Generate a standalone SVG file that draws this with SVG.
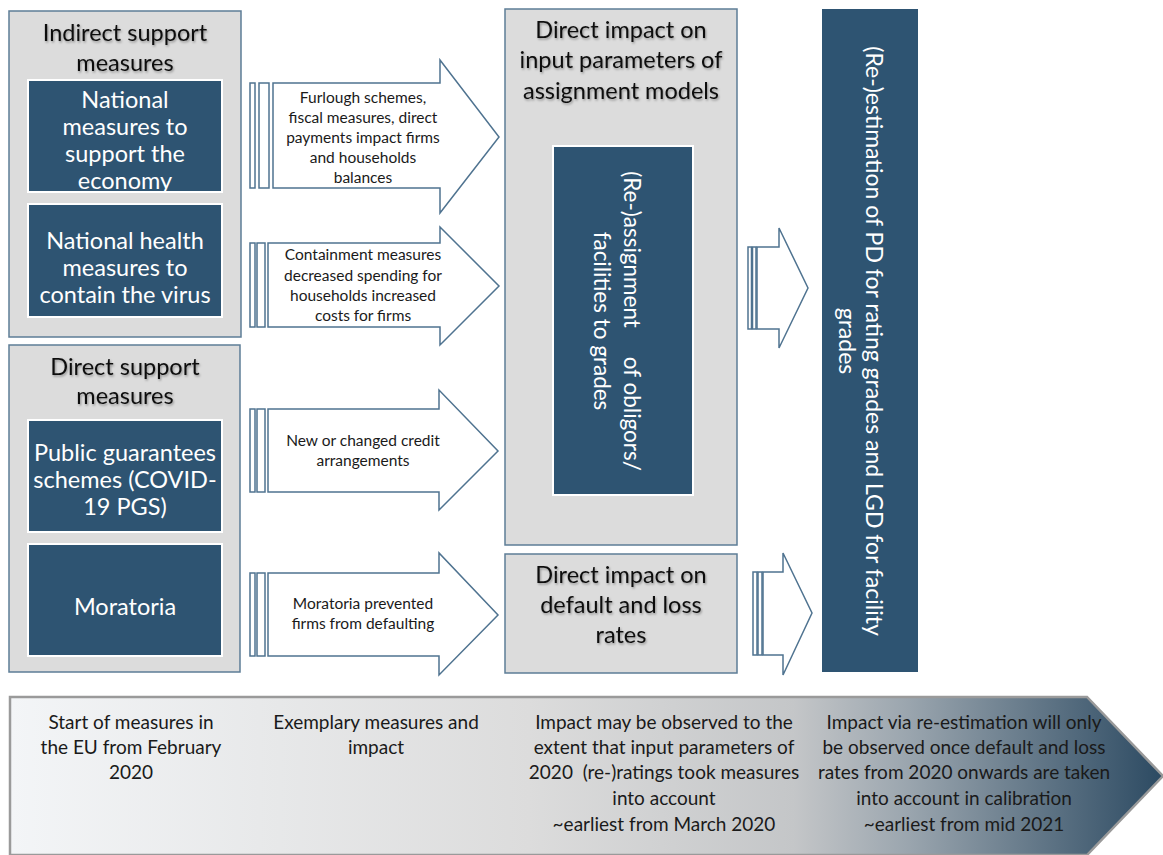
<svg xmlns="http://www.w3.org/2000/svg" width="1163" height="855" viewBox="0 0 1163 855">
<style>
.gbox{fill:#dcdcdc;stroke:#5d7d97;stroke-width:1.5}
.dbox{fill:#2e5472;stroke:#ffffff;stroke-width:2}
.arr{fill:#ffffff;stroke:#4f7390;stroke-width:1.5}
.t{font-family:Lato,"Liberation Sans",sans-serif;text-anchor:middle}
.title{font-size:23.5px;fill:#111;filter:url(#sh)}
.wt{font-size:23.5px;fill:#ffffff}
.at{font-size:15.5px;fill:#1a1a1a}
.bt{font-size:19px;fill:#1a1a1a}
.vt{font-size:23px;fill:#ffffff}
.vm{font-size:22.5px;fill:#ffffff}
</style>
<defs>
<filter id="sh" x="-10%" y="-30%" width="120%" height="160%">
<feDropShadow dx="1" dy="1.5" stdDeviation="1.2" flood-color="#000" flood-opacity="0.35"/>
</filter>
<linearGradient id="bg" x1="0" y1="0" x2="1" y2="0">
<stop offset="0" stop-color="#f3f5f7"/>
<stop offset="0.45" stop-color="#dcdcdc"/>
<stop offset="0.68" stop-color="#c4c6c8"/>
<stop offset="0.78" stop-color="#9aa5ae"/>
<stop offset="1" stop-color="#2c4a62"/>
</linearGradient>
</defs>

<g id="banner">
<path d="M10,697 H1087 L1163,776 L1087,855 H10 Z" fill="url(#bg)" stroke="#9a9a9a" stroke-width="2.5"/>
<text class="t bt" x="131" y="729">Start of measures in</text>
<text class="t bt" x="131" y="754">the EU from February</text>
<text class="t bt" x="131" y="779">2020</text>
<text class="t bt" x="376" y="729">Exemplary measures and</text>
<text class="t bt" x="376" y="754">impact</text>
<text class="t bt" x="664" y="729">Impact may be observed to the</text>
<text class="t bt" x="664" y="754">extent that input parameters of</text>
<text class="t bt" x="664" y="779" xml:space="preserve">2020  (re-)ratings took measures</text>
<text class="t bt" x="664" y="805">into account</text>
<text class="t bt" x="664" y="831">~earliest from March 2020</text>
<text class="t bt" x="964" y="729">Impact via re-estimation will only</text>
<text class="t bt" x="964" y="754">be observed once default and loss</text>
<text class="t bt" x="964" y="779">rates from 2020 onwards are taken</text>
<text class="t bt" x="964" y="805">into account in calibration</text>
<text class="t bt" x="964" y="831">~earliest from mid 2021</text>
</g>

<g id="indirect">
<rect class="gbox" x="9" y="11" width="232" height="326"/>
<text class="t title" x="125" y="41">Indirect support</text>
<text class="t title" x="125" y="71">measures</text>
</g>
<g id="economy">
<rect class="dbox" x="28" y="80" width="194" height="112"/>
<text class="t wt" x="125" y="108">National</text>
<text class="t wt" x="125" y="135">measures to</text>
<text class="t wt" x="125" y="162">support the</text>
<text class="t wt" x="125" y="189">economy</text>
</g>
<g id="health">
<rect class="dbox" x="28" y="204" width="194" height="113"/>
<text class="t wt" x="125" y="249">National health</text>
<text class="t wt" x="125" y="276">measures to</text>
<text class="t wt" x="125" y="303">contain the virus</text>
</g>

<g id="direct">
<rect class="gbox" x="9" y="345" width="231" height="327"/>
<text class="t title" x="125" y="375">Direct support</text>
<text class="t title" x="125" y="404">measures</text>
</g>
<g id="pgs">
<rect class="dbox" x="28" y="420" width="194" height="112"/>
<text class="t wt" x="125" y="461">Public guarantees</text>
<text class="t wt" x="125" y="488">schemes (COVID-</text>
<text class="t wt" x="125" y="515">19 PGS)</text>
</g>
<g id="moratoria">
<rect class="dbox" x="28" y="544" width="194" height="112"/>
<text class="t wt" x="125" y="615">Moratoria</text>
</g>

<g id="inputparams">
<rect class="gbox" x="505" y="9" width="232" height="536"/>
<text class="t title" x="621" y="38">Direct impact on</text>
<text class="t title" x="621" y="68">input parameters of</text>
<text class="t title" x="621" y="99">assignment models</text>
</g>
<g id="reassignment">
<rect class="dbox" x="553" y="146" width="140" height="349"/>
<text class="t vm" transform="translate(624,321) rotate(90)" xml:space="preserve">(Re-)assignment     of obligors/</text>
<text class="t vm" transform="translate(594,321) rotate(90)">facilities to grades</text>
</g>

<g id="defaultloss">
<rect class="gbox" x="505" y="554" width="232" height="119"/>
<text class="t title" x="621" y="583">Direct impact on</text>
<text class="t title" x="621" y="613">default and loss</text>
<text class="t title" x="621" y="643">rates</text>
</g>

<g id="reestimation">
<rect x="822" y="9" width="96" height="663" fill="#2e5472"/>
<text class="t vt" transform="translate(866,341) rotate(90)">(Re-)estimation of PD for rating grades and LGD for facility</text>
<text class="t vt" transform="translate(839,341) rotate(90)">grades</text>
</g>

<g id="connectors">
<g id="arrow1">
<rect class="arr" x="250" y="83" width="5" height="105"/>
<rect class="arr" x="259" y="83" width="10" height="105"/>
<path class="arr" d="M273,83 H440 V60 L499,137 L440,213 V188 H273 Z"/>
<text class="t at" x="363" y="103">Furlough schemes,</text>
<text class="t at" x="363" y="123">fiscal measures, direct</text>
<text class="t at" x="363" y="143">payments impact firms</text>
<text class="t at" x="363" y="163">and households</text>
<text class="t at" x="363" y="183">balances</text>
</g>
<g id="arrow2">
<rect class="arr" x="250" y="243" width="5" height="84"/>
<rect class="arr" x="257" y="243" width="8" height="84"/>
<path class="arr" d="M268,243 H440 V227 L499,286 L440,345 V327 H268 Z"/>
<text class="t at" x="363" y="260">Containment measures</text>
<text class="t at" x="363" y="281">decreased spending for</text>
<text class="t at" x="363" y="301">households increased</text>
<text class="t at" x="363" y="321">costs for firms</text>
</g>
<g id="arrow3">
<rect class="arr" x="250" y="409" width="5" height="83"/>
<rect class="arr" x="257" y="409" width="8" height="83"/>
<path class="arr" d="M268,409 H439 V390 L498,451 L439,510 V492 H268 Z"/>
<text class="t at" x="363" y="446">New or changed credit</text>
<text class="t at" x="363" y="466">arrangements</text>
</g>
<g id="arrow4">
<rect class="arr" x="250" y="573" width="5" height="83"/>
<rect class="arr" x="257" y="573" width="8" height="83"/>
<path class="arr" d="M268,573 H439 V553 L498,615 L439,675 V656 H268 Z"/>
<text class="t at" x="363" y="609">Moratoria prevented</text>
<text class="t at" x="363" y="629">firms from defaulting</text>
</g>
<g id="arrow5">
<rect class="arr" x="748" y="247" width="3.5" height="82"/>
<rect class="arr" x="752.5" y="247" width="3.5" height="82"/>
<path class="arr" d="M757,247 H779 V228 L808,288 L779,348 V329 H757 Z"/>
</g>
<g id="arrow6">
<rect class="arr" x="753" y="572" width="4" height="83"/>
<rect class="arr" x="758" y="572" width="4" height="83"/>
<path class="arr" d="M763,572 H783 V553 L812,613 L783,675 V655 H763 Z"/>
</g>
</g>
</svg>
